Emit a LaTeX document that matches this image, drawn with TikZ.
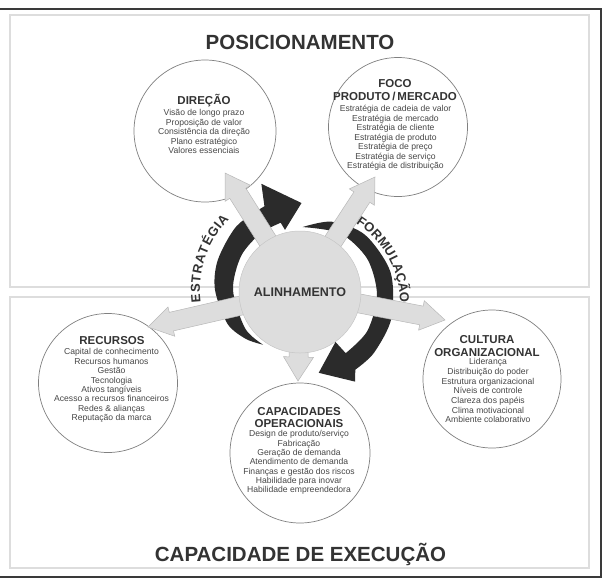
\documentclass[tikz,border=0pt]{standalone}
\usepackage{fontspec}
\setmainfont{Liberation Sans}
\usetikzlibrary{calc,decorations.text}
\definecolor{darkarc}{HTML}{2B2B2B}
\definecolor{arrowfill}{HTML}{DDDDDD}
\definecolor{arrowline}{HTML}{B8B8B8}
\definecolor{circline}{HTML}{808080}
\definecolor{titlecol}{HTML}{333333}
\definecolor{bodycol}{HTML}{474747}
\definecolor{panelline}{HTML}{DDDDDD}
\definecolor{framecol}{HTML}{3A3A3A}
\newcommand\arcfont{\fontsize{13}{15}\selectfont\bfseries\color{titlecol}}
\newcommand\blockarrow[2]{%
  \coordinate (hb) at ($(#2)!24pt!(#1)$);
  \filldraw[barrow] ($(#1)!9.5pt!90:(#2)$) -- ($(hb)!9.5pt!-90:(#1)$) -- ($(hb)!15pt!-90:(#1)$) -- (#2) -- ($(hb)!15pt!90:(#1)$) -- ($(hb)!9.5pt!90:(#1)$) -- ($(#1)!9.5pt!-90:(#2)$) -- cycle;
}
\begin{document}
\begin{tikzpicture}[x=1pt,y=-1pt,
  panel/.style={draw=panelline, line width=1.1pt},
  ring/.style={circle, draw=circline, line width=0.7pt, fill=white, inner sep=0pt},
  ttl/.style={font=\fontsize{11.5}{13}\selectfont\bfseries, text=titlecol, align=center, anchor=base, inner sep=0pt},
  body/.style={font=\fontsize{8.6}{9.5}\selectfont, text=bodycol, align=center, anchor=base, inner sep=0pt},
  barrow/.style={fill=arrowfill, draw=arrowline, line width=0.5pt, line join=miter},
  big/.style={font=\fontsize{20.5}{24}\selectfont\bfseries, text=titlecol, anchor=base, inner sep=0pt},
]
\useasboundingbox (0,0) rectangle (602,579);
\fill[white] (0,0) rectangle (602,579);
\draw[framecol, line width=2pt] (0,9) -- (601,9);
\draw[framecol, line width=1.6pt] (601,8) -- (601,577) -- (0,577);
\draw[panel] (10,15) rectangle (589,287);
\draw[panel] (10,297) rectangle (589,568);

\node[big] (pos) at (300,49.5) {POSICIONAMENTO};
\node[big] (exe) at (300.5,561.5) {CAPACIDADE DE EXECUÇÃO};

% outer circles
\node[ring, minimum size=142pt] (dir) at (205,131) {};
\node[ring, minimum size=139pt] (foco) at (398,127) {};
\node[ring, minimum size=139pt] (rec) at (108,383) {};
\node[ring, minimum size=138pt] (cult) at (492,379) {};
\node[ring, minimum size=140pt] (cap) at (300,453) {};

% dark circular arrows
\begin{scope}[shift={(300,290)}]
  \fill[darkarc] plot[smooth] coordinates {(-236:66) (-215:67) (-180:67) (-150:68) (-125:69) (-106:70)}
    -- (-104:62) -- (-89:87) -- (-110:113) -- (-113:91)
    -- plot[smooth] coordinates {(-113:91) (-135:90) (-160:87.5) (-180:85) (-205:80) (-222:73) (-236:66)} -- cycle;
  \path[decorate, decoration={text along path, text={|\arcfont|ESTRATÉGIA}, text align={fit to path}}]
    (-187:100) arc[start angle=-187, end angle=-135, radius=100];
\end{scope}
\begin{scope}[shift={(305,295)}]
  \fill[darkarc] plot[smooth] coordinates {(-92:68) (-70:78) (-45:85) (-15:88.5) (15:89.5) (40:90) (56:90)}
    -- (60:100) -- (80:79) -- (57:56)
    -- plot[smooth] coordinates {(55:71) (30:72) (0:72) (-30:72) (-60:71) (-92:68)} -- cycle;
\end{scope}
\begin{scope}[shift={(306,303)}]
  \path[decorate, decoration={text along path, text={|\arcfont|FORMULAÇÃO}, text align={fit to path}}]
    (-58:94) arc[start angle=-58, end angle=0, radius=94];
\end{scope}

% light block arrows
\coordinate (alc) at (300,292);
\coordinate (tdir) at (225,173);
\coordinate (tfoco) at (375,177);
\coordinate (trec) at (148,327);
\coordinate (tcult) at (445,320);
\coordinate (tcap) at (298,381);
\blockarrow{alc}{tdir}
\blockarrow{alc}{tfoco}
\blockarrow{alc}{trec}
\blockarrow{alc}{tcult}
\blockarrow{alc}{tcap}

\node[circle, minimum size=122pt, fill=arrowfill, draw=arrowline!80, line width=0.5pt, inner sep=0pt] (al) at (alc) {};
\node[font=\fontsize{12.5}{14}\selectfont\bfseries, text=titlecol, anchor=base, inner sep=0pt] (altxt) at (300,296.5) {ALINHAMENTO};

% texts (multi-line nodes: base = last line)
\node[ttl] (dirT) at (204,104.1) {DIREÇÃO};
\node[body] (dirB) at (204,153.8) {Visão de longo prazo\\Proposição de valor\\Consistência da direção\\Plano estratégico\\Valores essenciais};

\node[ttl] (focoT) at (395,100.1) {FOCO\\PRODUTO\,/\,MERCADO};
\node[body] (focoB) at (395.5,168.8) {Estratégia de cadeia de valor\\Estratégia de mercado\\Estratégia de cliente\\Estratégia de produto\\Estratégia de preço\\Estratégia de serviço\\Estratégia de distribuição};

\node[ttl] (recT) at (112,344.1) {RECURSOS};
\node[body, font=\fontsize{8.6}{9.43}\selectfont] (recB) at (111.5,420.8) {Capital de conhecimento\\Recursos humanos\\Gestão\\Tecnologia\\Ativos tangíveis\\Acesso a recursos financeiros\\Redes \& alianças\\Reputação da marca};

\node[ttl] (cultT) at (487,356.1) {CULTURA\\ORGANIZACIONAL};
\node[body, font=\fontsize{8.6}{9.67}\selectfont] (cultB) at (488,422.8) {Liderança\\Distribuição do poder\\Estrutura organizacional\\Níveis de controle\\Clareza dos papéis\\Clima motivacional\\Ambiente colaborativo};

\node[ttl, font=\fontsize{11.5}{12}\selectfont\bfseries] (capT) at (299,427.1) {CAPACIDADES\\OPERACIONAIS};
\node[body, font=\fontsize{8.6}{9.33}\selectfont] (capB) at (299,492.8) {Design de produto/serviço\\Fabricação\\Geração de demanda\\Atendimento de demanda\\Finanças e gestão dos riscos\\Habilidade para inovar\\Habilidade empreendedora};
\end{tikzpicture}
\end{document}
